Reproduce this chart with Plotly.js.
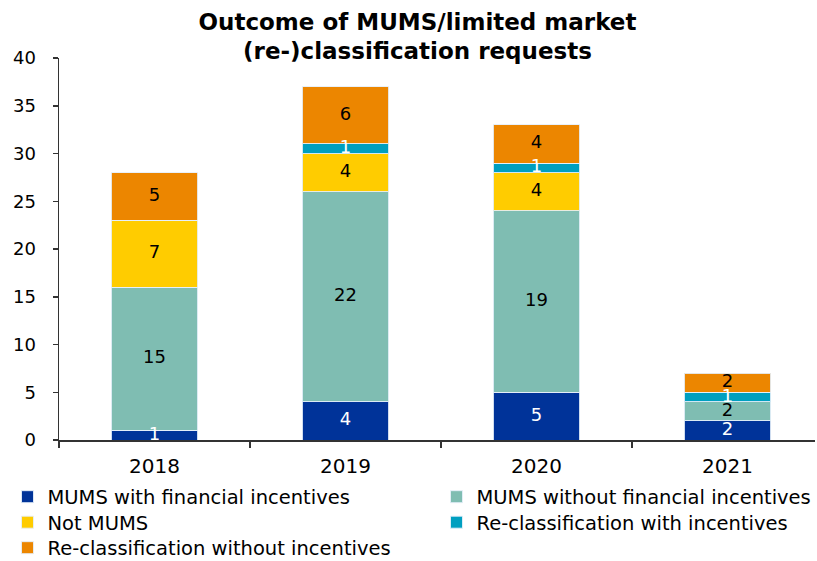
<!DOCTYPE html>
<html>
<head>
<meta charset="utf-8">
<script src="https://cdn.plot.ly/plotly-3.0.1.min.js"></script>
<style>html,body{margin:0;padding:0;overflow:hidden;background:#fff;}#chart{width:817px;height:561px;}</style>
</head>
<body>
<div id="chart"></div>
<script>
const years = ["2018", "2019", "2020", "2021"];
const mumsWithIncentives = [1, 4, 5, 2];
const mumsWithoutIncentives = [15, 22, 19, 2];
const notMums = [7, 4, 4, 0];
const reclassWithIncentives = [0, 1, 1, 1];
const reclassWithoutIncentives = [5, 6, 4, 2];

const seriesNames = [
  "MUMS with financial incentives",
  "MUMS without financial incentives",
  "Not MUMS",
  "Re-classification with incentives",
  "Re-classification without incentives"
];
const seriesValues = [mumsWithIncentives, mumsWithoutIncentives, notMums, reclassWithIncentives, reclassWithoutIncentives];
const seriesColors = ["#003399", "#7FBDB2", "#FFCC00", "#009FC0", "#EC8600"];
const labelColors = ["#ffffff", "#000000", "#000000", "#ffffff", "#000000"];
const legendIds = ["legend", "legend2", "legend3", "legend4", "legend5"];

const FONT = "DejaVu Sans, Verdana, sans-serif";

const barTraces = seriesValues.map((vals, i) => ({
  type: "bar",
  name: seriesNames[i],
  legend: legendIds[i],
  x: years,
  y: vals,
  marker: {color: seriesColors[i], line: {color: "rgba(230,240,250,0.9)", width: 1}},
  hoverinfo: "skip"
}));

// value labels at the middle of each stacked segment (derived from the data)
const labelTraces = [];
const base = years.map(() => 0);
seriesValues.forEach((vals, i) => {
  const mids = vals.map((v, j) => base[j] + v / 2);
  labelTraces.push({
    type: "scatter",
    mode: "text",
    x: years,
    y: mids,
    text: vals.map(v => v === 0 ? "" : String(v)),
    textposition: "middle center",
    textfont: {family: FONT, size: 18, color: labelColors[i]},
    showlegend: false,
    hoverinfo: "skip",
    cliponaxis: true
  });
  vals.forEach((v, j) => { base[j] += v; });
});

function legendAt(xpx, ypx) {
  return {
    orientation: "v",
    xref: "container", yref: "container",
    x: xpx / 817, xanchor: "left",
    y: 1 - ypx / 561, yanchor: "middle",
    bgcolor: "rgba(0,0,0,0)",
    font: {family: FONT, size: 19.5, color: "#000"},
    itemclick: false, itemdoubleclick: false
  };
}

const layout = {
  width: 817,
  height: 561,
  barmode: "stack",
  bargap: 0.545,
  paper_bgcolor: "#ffffff",
  plot_bgcolor: "#ffffff",
  margin: {l: 59, r: 2, t: 58, b: 121, autoexpand: false},
  font: {family: FONT, size: 18, color: "#000"},
  title: {
    text: "<b>Outcome of MUMS/limited market<br>(re-)classification requests</b>",
    font: {family: FONT, size: 23, color: "#000"},
    x: 0.511, xanchor: "center", y: 1 - 29.5 / 561, yanchor: "middle", yref: "container"
  },
  xaxis: {
    type: "category",
    range: [-0.5, 3.458],
    showline: true, linecolor: "#333", linewidth: 1.5,
    ticks: "outside", tickson: "boundaries", ticklen: 6, tickcolor: "#333", tickwidth: 1.5,
    ticklabelstandoff: 7,
    tickangle: 0,
    tickfont: {family: FONT, size: 20, color: "#000"},
    showgrid: false, zeroline: false, fixedrange: true
  },
  yaxis: {
    range: [0, 40], dtick: 5,
    showline: true, linecolor: "#333", linewidth: 1.5,
    ticks: "outside", ticklen: 5, tickcolor: "#333", tickwidth: 1.5,
    ticklabelstandoff: 13,
    tickfont: {family: FONT, size: 18, color: "#000"},
    showgrid: false, zeroline: false, fixedrange: true
  },
  showlegend: true,
  legend: legendAt(7.5, 497),
  legend2: legendAt(436.5, 497),
  legend3: legendAt(7.5, 522.5),
  legend4: legendAt(436.5, 522.5),
  legend5: legendAt(7.5, 548)
};

Plotly.newPlot("chart", barTraces.concat(labelTraces), layout, {displayModeBar: false, staticPlot: true});
</script>
</body>
</html>
